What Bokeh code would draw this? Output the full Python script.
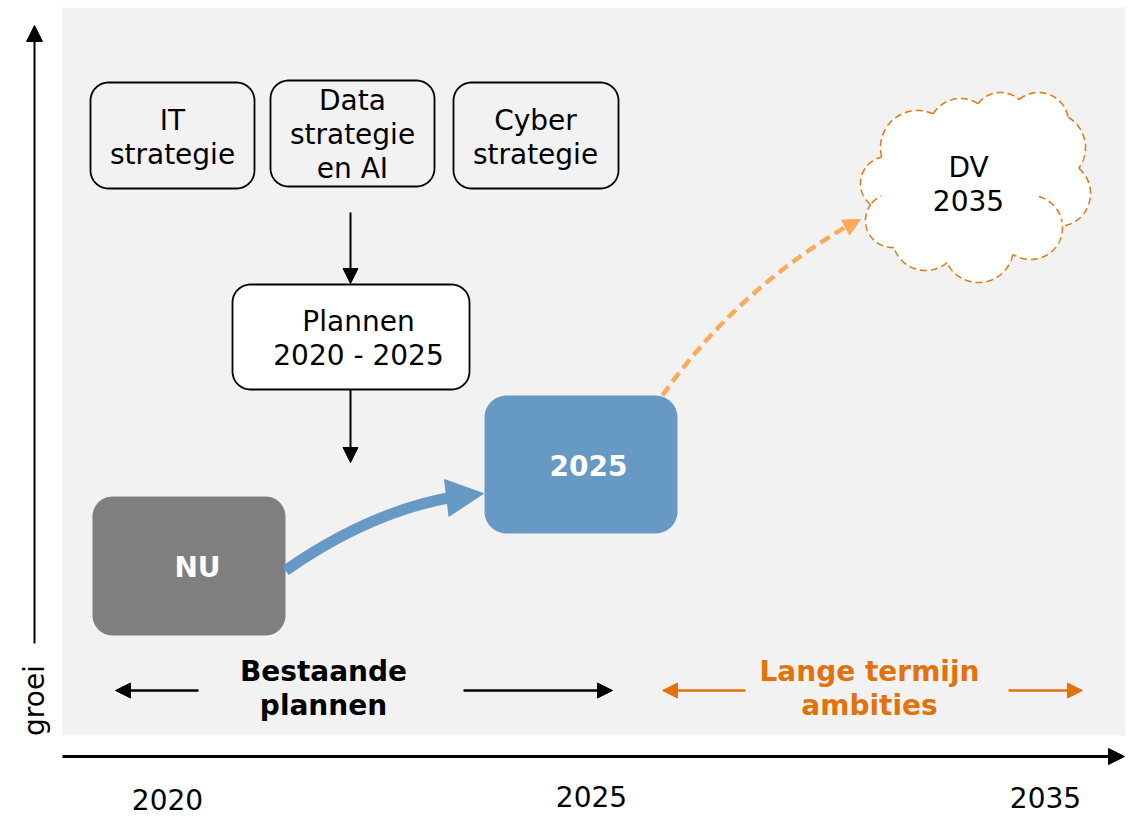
import numpy as np
from bokeh.plotting import figure
from bokeh.models import Range1d, Arrow, NormalHead
from bokeh.core.properties import value
from bokeh.embed import file_html
from bokeh.resources import INLINE

# ---------------- content ----------------
year_labels = ["2020", "2025", "2035"]
strategy_labels = ["IT\nstrategie", "Data\nstrategie\nen AI", "Cyber\nstrategie"]
plan_label = "Plannen\n2020 - 2025"
now_label = "NU"
mid_label = "2025"
goal_label = "DV\n2035"
phase_labels = ["Bestaande\nplannen", "Lange termijn\nambities"]
axis_label = "groei"

# ---------------- styling ----------------
FONT = value("DejaVu Sans")
FS = "28px"
LH = 1.02
BG = "#f2f2f2"
GREY = "#7f7f7f"
BLUE = "#6699c4"
ORANGE_TXT = "#e3720c"
ORANGE_LIGHT = "#ffa95a"
ORANGE_CLOUD = "#e07b1b"

W, H = 1132, 816
p = figure(width=W, height=H, x_range=Range1d(0, W), y_range=Range1d(H, 0),
           output_backend="svg", toolbar_location=None, min_border=0)
p.axis.visible = False
p.grid.visible = False
p.outline_line_color = None
p.background_fill_color = "white"
p.border_fill_color = "white"


def rrect(l, r, t, b, rad, n=14):
    xs, ys = [], []
    for cx, cy, a0, a1 in [(r - rad, t + rad, -90, 0), (r - rad, b - rad, 0, 90),
                           (l + rad, b - rad, 90, 180), (l + rad, t + rad, 180, 270)]:
        a = np.radians(np.linspace(a0, a1, n))
        xs.extend(cx + rad * np.cos(a))
        ys.extend(cy + rad * np.sin(a))
    return xs, ys


# background panel
p.quad(left=62, right=1125, top=7, bottom=735, fill_color=BG, line_color=None)

# axes arrows
p.add_layout(Arrow(end=NormalHead(size=16, fill_color="black", line_color="black"),
                   x_start=34, y_start=643, x_end=34, y_end=25, line_width=2, line_color="black"))
p.add_layout(Arrow(end=NormalHead(size=16, fill_color="black", line_color="black"),
                   x_start=62, y_start=756, x_end=1124, y_end=756, line_width=3, line_color="black"))
p.text(x=[34], y=[700], text=[axis_label], angle=np.pi / 2, text_font=FONT, text_font_size=FS,
       text_align="center", text_baseline="middle", text_color="black")
p.text(x=[167, 591, 1045], y=[799, 796, 797], text=year_labels, text_font=FONT, text_font_size=FS,
       text_align="center", text_baseline="middle", text_color="black")

# strategy boxes
strat_boxes = [(90, 254, 82, 188), (270, 434, 80, 186), (453, 618, 82, 188)]
for (l, r, t, b) in strat_boxes:
    xs, ys = rrect(l, r, t, b, 18)
    p.patch(xs, ys, fill_color=None, line_color="black", line_width=1.8)
p.text(x=[172, 352, 535], y=[137, 134, 137], text=strategy_labels, text_font=FONT, text_font_size=FS,
       text_align="center", text_baseline="middle", text_color="black", text_line_height=LH)

# plannen box
xs, ys = rrect(232, 469, 284, 389, 18)
p.patch(xs, ys, fill_color="white", line_color="black", line_width=1.8)
p.text(x=[358], y=[338], text=[plan_label], text_font=FONT, text_font_size=FS,
       text_align="center", text_baseline="middle", text_color="black", text_line_height=LH)

# small down arrows
for y0, y1 in [(212, 283), (389, 462)]:
    p.add_layout(Arrow(end=NormalHead(size=15, fill_color="black", line_color="black"),
                       x_start=350, y_start=y0, x_end=350, y_end=y1, line_width=2, line_color="black"))

# NU box
xs, ys = rrect(92, 285, 496, 635, 20)
p.patch(xs, ys, fill_color=GREY, line_color=None)
p.text(x=[197], y=[567], text=[now_label], text_font=FONT, text_font_size=FS, text_font_style="bold",
       text_align="center", text_baseline="middle", text_color="white")

# 2025 box
xs, ys = rrect(484, 677, 395, 533, 22)
p.patch(xs, ys, fill_color=BLUE, line_color=None)
p.text(x=[588], y=[465], text=[mid_label], text_font=FONT, text_font_size=FS, text_font_style="bold",
       text_align="center", text_baseline="middle", text_color="white")

# blue curved arrow
p.quadratic(x0=[285], y0=[570], x1=[450], y1=[497], cx=[368], cy=[512], line_color=BLUE, line_width=11)
p.add_layout(Arrow(end=NormalHead(size=37, fill_color=BLUE, line_color=BLUE),
                   x_start=446, y_start=497.5, x_end=483, y_end=493, line_width=0, line_alpha=0))

# orange dashed curved arrow
p.quadratic(x0=[662], y0=[395], x1=[846], y1=[226], cx=[735], cy=[291], line_color=ORANGE_LIGHT,
            line_width=4.5, line_dash="11 6")
p.add_layout(Arrow(end=NormalHead(size=17, fill_color=ORANGE_LIGHT, line_color=ORANGE_LIGHT),
                   x_start=845, y_start=227, x_end=860, y_end=219, line_width=0, line_alpha=0))

# cloud
cloud = [(917, 147, 37), (960, 130, 32), (1000, 120, 28), (1038, 122, 30), (1050, 147, 35),
         (1057, 193, 33), (1030, 227, 32), (978, 247, 35), (925, 237, 33), (892, 220, 27),
         (887, 183, 27), (975, 185, 62), (1015, 175, 45), (935, 200, 40)]
cx = np.array([c[0] for c in cloud], float)
cy = np.array([c[1] for c in cloud], float)
cr = np.array([c[2] for c in cloud], float)
p.circle(x=cx, y=cy, radius=cr, fill_color="white", line_color=None)
segs_x, segs_y = [], []
ang = np.linspace(0, 2 * np.pi, 721)
for i in range(len(cloud)):
    px = cx[i] + cr[i] * np.cos(ang)
    py = cy[i] + cr[i] * np.sin(ang)
    outside = np.ones_like(ang, dtype=bool)
    for j in range(len(cloud)):
        if j == i:
            continue
        outside &= np.hypot(px - cx[j], py - cy[j]) > cr[j] - 0.01
    if not outside.any():
        continue
    if outside.all():
        segs_x.append(list(px)); segs_y.append(list(py)); continue
    start = np.argmin(outside)
    idx = np.roll(np.arange(len(ang)), -start)
    run = []
    for k in idx:
        if outside[k]:
            run.append(k)
        elif run:
            segs_x.append(list(px[run])); segs_y.append(list(py[run])); run = []
    if run:
        segs_x.append(list(px[run])); segs_y.append(list(py[run]))
# inner detail arcs of the cloud shape
for i, a0, a1 in [(6, -75, -10), (9, -140, -115)]:
    a = np.radians(np.linspace(a0, a1, 40))
    segs_x.append(list(cx[i] + cr[i] * np.cos(a)))
    segs_y.append(list(cy[i] + cr[i] * np.sin(a)))
p.multi_line(xs=segs_x, ys=segs_y, line_color=ORANGE_CLOUD, line_width=1.6, line_dash="7 4")
p.text(x=[968], y=[184], text=[goal_label], text_font=FONT, text_font_size=FS,
       text_align="center", text_baseline="middle", text_color="black", text_line_height=LH)

# phase labels and arrows
p.text(x=[323], y=[688], text=[phase_labels[0]], text_font=FONT, text_font_size=FS, text_font_style="bold",
       text_align="center", text_baseline="middle", text_color="black", text_line_height=LH)
p.text(x=[869], y=[688], text=[phase_labels[1]], text_font=FONT, text_font_size=FS, text_font_style="bold",
       text_align="center", text_baseline="middle", text_color=ORANGE_TXT, text_line_height=LH)
for x0, x1, col in [(198, 115, "black"), (463, 612, "black"), (745, 662, ORANGE_TXT), (1008, 1082, ORANGE_TXT)]:
    p.add_layout(Arrow(end=NormalHead(size=15, fill_color=col, line_color=col),
                       x_start=x0, y_start=690, x_end=x1, y_end=690, line_width=2.5, line_color=col))

open("out.html", "w").write(file_html(p, INLINE))
